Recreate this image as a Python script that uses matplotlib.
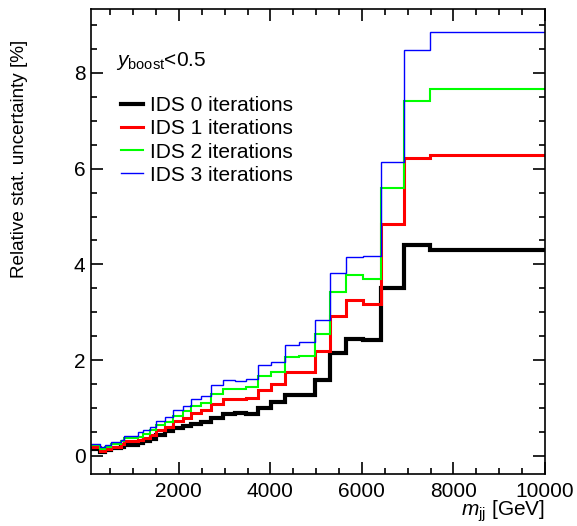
import matplotlib
matplotlib.use("Agg")
import matplotlib.pyplot as plt
from matplotlib.ticker import MultipleLocator
import numpy as np

plt.rcParams['font.family'] = ['Liberation Sans', 'DejaVu Sans']
plt.rcParams['mathtext.fontset'] = 'custom'
plt.rcParams['mathtext.rm'] = 'Liberation Sans'
plt.rcParams['mathtext.it'] = 'Liberation Sans:italic'

# bin edges in m_jj [GeV]
edges = [80, 270, 380, 520, 740, 810, 1100, 1210, 1360, 1500, 1690, 1870, 2090,
         2270, 2490, 2700, 2960, 3220, 3470, 3730, 4020, 4320, 4630, 4980, 5310,
         5650, 6020, 6420, 6930, 7490, 10000]

ids0 = [0.14, 0.09, 0.13, 0.16, 0.19, 0.23, 0.26, 0.30, 0.35, 0.44, 0.51, 0.58, 0.63,
        0.67, 0.70, 0.79, 0.88, 0.89, 0.88, 1.00, 1.12, 1.27, 1.27, 1.59, 2.14,
        2.45, 2.41, 3.51, 4.40, 4.30]
ids1 = [0.18, 0.11, 0.15, 0.19, 0.25, 0.31, 0.33, 0.38, 0.44, 0.54, 0.61, 0.72, 0.79,
        0.89, 0.95, 1.09, 1.19, 1.18, 1.20, 1.38, 1.50, 1.76, 1.76, 2.19, 2.93,
        3.26, 3.17, 4.84, 6.23, 6.28]
ids2 = [0.22, 0.15, 0.18, 0.25, 0.30, 0.37, 0.40, 0.46, 0.53, 0.65, 0.70, 0.84, 0.94,
        1.05, 1.10, 1.29, 1.39, 1.40, 1.43, 1.67, 1.75, 2.06, 2.09, 2.55, 3.42,
        3.78, 3.69, 5.60, 7.42, 7.67]
ids3 = [0.25, 0.18, 0.22, 0.29, 0.33, 0.42, 0.49, 0.54, 0.61, 0.73, 0.82, 0.96, 1.05,
        1.18, 1.25, 1.47, 1.59, 1.56, 1.60, 1.89, 1.96, 2.32, 2.37, 2.84, 3.81,
        4.16, 4.18, 6.14, 8.49, 8.86]

labels = ["IDS 0 iterations", "IDS 1 iterations", "IDS 2 iterations", "IDS 3 iterations"]
colors = ["black", "#ff0000", "#00ff00", "#0000ff"]
widths = [3.0, 2.2, 1.5, 1.0]
series = [ids0, ids1, ids2, ids3]

fig = plt.figure(figsize=(5.77, 5.26), dpi=100)
ax = fig.add_axes([91/577, 1-474/526, (545-91)/577, (474-9.3)/526])

handles = []
for vals, c, lw, lab in zip(series, colors, widths, labels):
    ax.stairs(vals, edges, baseline=None, color=c, linewidth=lw)
    h, = ax.plot([], [], color=c, linewidth=lw, label=lab)
    handles.append(h)

ax.set_xlim(80, 10000)
ax.set_ylim(-0.38, 9.33)
ax.xaxis.set_major_locator(MultipleLocator(2000))
ax.xaxis.set_minor_locator(MultipleLocator(500))
ax.yaxis.set_major_locator(MultipleLocator(2))
ax.yaxis.set_minor_locator(MultipleLocator(0.5))
ax.tick_params(which='both', direction='in', top=True, right=True, width=1.2, labelsize=15)
ax.tick_params(which='major', length=8.5)
ax.tick_params(which='minor', length=4.3)
ax.tick_params(axis='x', pad=6)
ax.tick_params(axis='y', pad=4)
for s in ax.spines.values():
    s.set_linewidth(1.2)

ax.set_xlabel(r'$m_{\mathrm{jj}}$ [GeV]', fontsize=15, loc='right')
ax.xaxis.set_label_coords(1.0, -0.052)
ax.set_ylabel('Relative stat. uncertainty [%]', fontsize=13.6, loc='top')
ax.yaxis.set_label_coords(-0.138, 0.934)

ax.text(0.055, 0.888, r'$y_{\mathrm{boost}}$<0.5', transform=ax.transAxes, fontsize=15,
        va='center', ha='left')

ax.legend(handles=handles, loc='upper left', bbox_to_anchor=(0.065, 0.813), frameon=False,
          fontsize=15, handlelength=1.1, handletextpad=0.3, labelspacing=0.2,
          borderaxespad=0, borderpad=0)

fig.savefig("out.png", dpi=100)
